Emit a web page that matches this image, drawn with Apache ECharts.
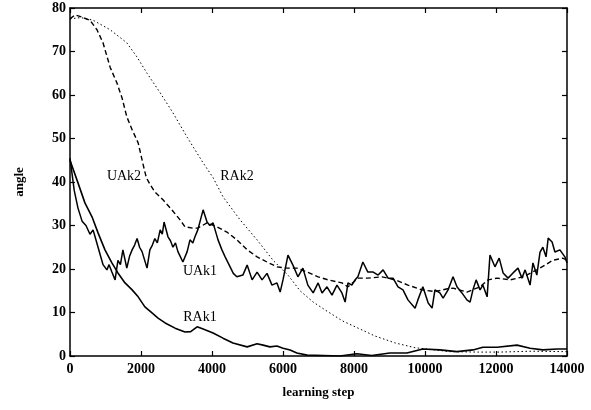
<!DOCTYPE html>
<html>
<head>
<meta charset="utf-8">
<script src="https://cdn.jsdelivr.net/npm/echarts@6/dist/echarts.min.js"></script>
<style>html,body{margin:0;padding:0;background:#fff}#c{width:591px;height:410px}</style>
</head>
<body>
<div id="c"></div>
<script>
var xTicks = [0, 2000, 4000, 6000, 8000, 10000, 12000, 14000];
var yTicks = [0, 10, 20, 30, 40, 50, 60, 70, 80];

var uak1 = [[0,45.5],[120,38],[225,34],[340,31],[450,30],[563,28],[650,29],[720,27],[790,25],[860,23],[930,21],[1040,19.8],[1100,21],[1180,19.3],[1270,17.5],[1350,22],[1420,21],[1490,24.4],[1600,20.2],[1680,23],[1750,24.4],[1820,25.5],[1890,27],[1960,25],[2030,24],[2170,20.2],[2250,24.4],[2320,25.5],[2390,27],[2460,26],[2540,29],[2600,28],[2650,30.8],[2760,27.4],[2830,26.5],[2900,25],[2970,26],[3040,24],[3180,21.6],[3300,24],[3380,26.7],[3460,26],[3520,27.4],[3600,29],[3750,33.6],[3860,30.8],[3940,30],[4030,30.6],[4170,26.7],[4280,24.4],[4370,22.8],[4510,20.5],[4600,19],[4700,18.2],[4870,18.6],[4990,20.9],[5130,17.5],[5270,19.3],[5410,17.5],[5550,19],[5690,16.3],[5830,16.8],[5920,14.7],[6000,17.5],[6140,23.2],[6280,20.9],[6420,18.2],[6560,20.2],[6700,16.3],[6850,14.5],[6990,16.8],[7100,14.5],[7240,15.9],[7380,14],[7520,16.3],[7660,14.5],[7750,12.4],[7830,16.8],[7940,16.3],[8030,17.5],[8110,18.2],[8250,21.6],[8390,19.3],[8540,19.3],[8680,18.6],[8820,19.8],[8960,17.9],[9100,17.9],[9240,15.9],[9380,15.2],[9520,12.9],[9720,11],[9800,12.9],[9940,15.9],[10090,12.2],[10200,11],[10280,15.2],[10420,14.5],[10510,13.3],[10650,15.2],[10790,18.2],[10900,15.9],[11040,14.5],[11180,12.9],[11270,12.4],[11350,15.2],[11440,17.5],[11550,15.2],[11630,16.3],[11750,13.6],[11830,23.2],[11970,20.5],[12090,22.5],[12200,19.1],[12340,17.9],[12480,19.1],[12620,20.2],[12730,17.9],[12820,19.8],[12960,16.3],[13040,21.4],[13150,18.6],[13240,23.9],[13320,25],[13410,22.8],[13470,27.1],[13580,26.2],[13660,23.9],[13800,24.4],[13940,22.8],[14000,21.4]];

var uak2 = [[0,77.5],[140,78.4],[300,78],[560,77.2],[760,75],[930,72],[1130,66.4],[1320,62.8],[1460,59.5],[1600,55],[1750,52],[1920,49],[2060,44],[2150,41],[2250,39.5],[2390,37.7],[2620,35.9],[2870,33.6],[3100,31.3],[3240,29.7],[3460,29.4],[3600,29.4],[3860,30.6],[4140,29.7],[4420,28.5],[4700,26.7],[4990,24.4],[5270,22.8],[5550,21.6],[5830,20.5],[6110,20.2],[6390,20.2],[6680,19.3],[6990,18.2],[7270,17.5],[7660,16.8],[7830,15.9],[8110,17.9],[8390,17.9],[8790,18.2],[9160,17.5],[9520,16.3],[9920,15.2],[10280,14.8],[10600,15.4],[10790,15.6],[11180,14.7],[11550,15.9],[11780,17.5],[12030,17.9],[12400,17.5],[12760,18.2],[13150,19.8],[13380,20.9],[13600,22],[13880,22.5],[14000,22]];

var rak1 = [[0,45],[225,39.8],[420,35.2],[620,32],[790,28.3],[985,24.4],[1180,21.4],[1350,19.1],[1550,16.8],[1750,15.2],[1920,13.6],[2110,11.3],[2310,9.9],[2480,8.7],[2680,7.6],[2960,6.4],[3240,5.5],[3400,5.6],[3580,6.7],[3750,6.2],[4030,5.3],[4310,4.1],[4590,3],[4990,2.1],[5270,2.8],[5440,2.5],[5630,2.1],[5830,2.3],[6000,1.8],[6200,1.4],[6390,0.7],[6680,0.2],[7600,0],[8080,0.5],[8500,0.1],[9010,0.7],[9490,0.7],[9940,1.6],[10420,1.4],[10900,1],[11350,1.4],[11630,2],[12030,2],[12590,2.5],[12960,1.8],[13320,1.4],[13720,1.6],[14000,1.6]];

var rak2 = [[0,77.5],[300,77.8],[650,77.2],[1130,75],[1600,72],[1890,68.7],[2170,65],[2540,60.5],[2900,55.9],[3300,50.3],[3750,44.4],[4030,41],[4310,36.6],[4790,31.3],[5270,26.7],[5720,22],[6150,18.5],[6480,15],[6850,12.4],[7240,10.3],[7690,8],[8170,6.2],[8590,4.6],[9160,3],[9720,1.9],[10280,1.4],[10700,1.0],[11500,0.9],[12100,0.9],[13000,1.1],[14000,1.0]];

var seriesNames = ['UAk2', 'RAk2', 'UAk1', 'RAk1'];
var labelPos = [[1521, 41.4], [4704, 41.4], [3662, 19.5], [3662, 9]];

var FONT = '"Liberation Serif", "DejaVu Serif", serif';
var chart = echarts.init(document.getElementById('c'), null, {renderer: 'canvas'});

function axisCommon() {
  return {
    axisLine: {show: true, onZero: false, lineStyle: {color: '#000', width: 1.5}},
    axisTick: {show: true, inside: true, length: 5, lineStyle: {color: '#000', width: 1.2}},
    splitLine: {show: false}
  };
}
function plain(v) { return String(v); }

var xMain = Object.assign(axisCommon(), {
  type: 'value', min: xTicks[0], max: xTicks[xTicks.length - 1], interval: 2000, position: 'bottom',
  name: 'learning step', nameLocation: 'middle', nameGap: 30,
  nameTextStyle: {fontFamily: FONT, fontSize: 13, fontWeight: 'bold', color: '#000'},
  axisLabel: {fontFamily: FONT, fontSize: 14, fontWeight: 'bold', color: '#000', margin: 6, formatter: plain}
});
var xTop = Object.assign(axisCommon(), {
  type: 'value', min: xTicks[0], max: xTicks[xTicks.length - 1], interval: 2000, position: 'top',
  axisLabel: {show: false}
});
var yMain = Object.assign(axisCommon(), {
  type: 'value', min: yTicks[0], max: yTicks[yTicks.length - 1], interval: 10, position: 'left',
  name: 'angle', nameLocation: 'middle', nameGap: 44, nameRotate: 90,
  nameTextStyle: {fontFamily: FONT, fontSize: 13, fontWeight: 'bold', color: '#000'},
  axisLabel: {fontFamily: FONT, fontSize: 14, fontWeight: 'bold', color: '#000', margin: 4, formatter: plain}
});
var yRight = Object.assign(axisCommon(), {
  type: 'value', min: yTicks[0], max: yTicks[yTicks.length - 1], interval: 10, position: 'right',
  axisLabel: {show: false}
});

function line(name, data, width, dash) {
  return {
    name: name, type: 'line', data: data, xAxisIndex: 0, yAxisIndex: 0,
    showSymbol: false, symbol: 'none', smooth: false, animation: false,
    lineStyle: {color: '#000', width: width, type: dash}
  };
}

chart.setOption({
  backgroundColor: '#fff',
  animation: false,
  grid: {left: 70, right: 24, top: 8, bottom: 54, containLabel: false},
  xAxis: [xMain, xTop],
  yAxis: [yMain, yRight],
  series: [
    line('RAk2', rak2, 1, [1.5, 2.5]),
    line('UAk2', uak2, 1.4, [5, 3]),
    line('RAk1', rak1, 1.6, 'solid'),
    line('UAk1', uak1, 1.5, 'solid')
  ]
});

var g = [];
for (var i = 0; i < seriesNames.length; i++) {
  var p = chart.convertToPixel({xAxisIndex: 0, yAxisIndex: 0}, labelPos[i]);
  g.push({
    type: 'text', x: p[0], y: p[1],
    style: {text: seriesNames[i], font: 'normal 14px ' + FONT, fill: '#000', align: 'center', verticalAlign: 'middle'}
  });
}
chart.setOption({graphic: g});
</script>
</body>
</html>
